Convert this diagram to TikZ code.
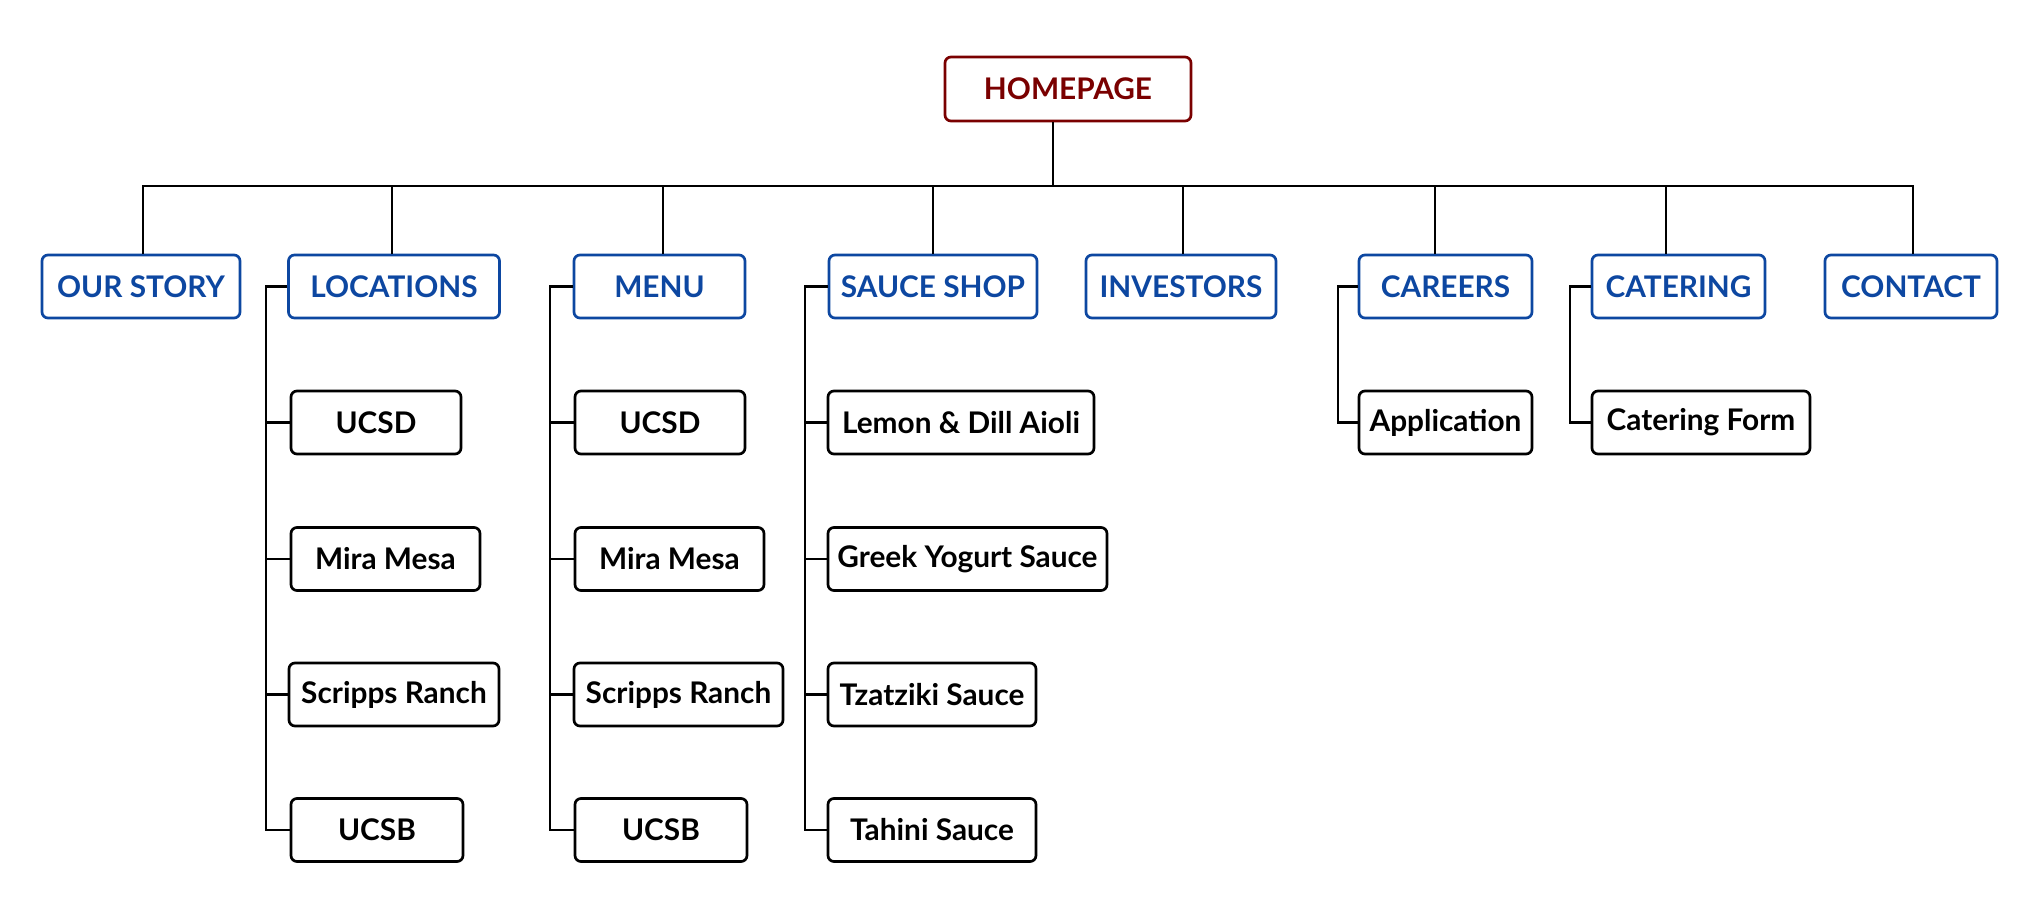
\documentclass[tikz,border=0pt]{standalone}
\usepackage{fontspec}
\setmainfont{Lato}
\definecolor{navy}{HTML}{0D47A1}
\definecolor{maroon}{HTML}{7A0000}
\begin{document}
\begin{tikzpicture}[x=0.5pt,y=-0.5pt,
  box/.style={draw, rounded corners=3pt, line width=1.35pt, inner sep=0pt,
    minimum height=31.5pt, font=\fontsize{14.9}{18}\selectfont\bfseries, fill=white},
  topbox/.style={box, draw=maroon, text=maroon, minimum height=32pt},
  secbox/.style={box, draw=navy, text=navy},
  leafbox/.style={box, draw=black, text=black},
  conn/.style={draw=black, line width=1.25pt}]
\useasboundingbox (0,0) rectangle (2042,912);
\fill[white] (0,0) rectangle (2042,912);

% top
\node[topbox, minimum width=123pt] (home) at (1068,89) {HOMEPAGE};

% level 1
\node[secbox, minimum width=99pt]  (ourstory)  at (141,286.5)  {OUR STORY};
\node[secbox, minimum width=105.5pt] (locations) at (394,286.5) {LOCATIONS};
\node[secbox, minimum width=85.5pt] (menu)     at (659.5,286.5) {MENU};
\node[secbox, minimum width=104pt] (sauce)     at (933,286.5)  {SAUCE SHOP};
\node[secbox, minimum width=95pt]  (investors) at (1181,286.5) {INVESTORS};
\node[secbox, minimum width=86.5pt] (careers)  at (1445.5,286.5) {CAREERS};
\node[secbox, minimum width=86.5pt] (catering) at (1678.5,286.5) {CATERING};
\node[secbox, minimum width=86pt]  (contact)   at (1911,286.5) {CONTACT};

% locations children
\node[leafbox, minimum width=85pt]  (ucsdA)    at (376,422.5)   {UCSD};
\node[leafbox, minimum width=94.5pt] (miraA)   at (385.5,559)   {Mira Mesa};
\node[leafbox, minimum width=105pt] (scrippsA) at (394,694.5)   {Scripps Ranch};
\node[leafbox, minimum width=86pt]  (ucsbA)    at (377,830)     {UCSB};

% menu children
\node[leafbox, minimum width=85pt]  (ucsdB)    at (660,422.5)   {UCSD};
\node[leafbox, minimum width=94.5pt] (miraB)   at (669.5,559)   {Mira Mesa};
\node[leafbox, minimum width=104.5pt] (scrippsB) at (678.5,694.5) {Scripps Ranch};
\node[leafbox, minimum width=86pt]  (ucsbB)    at (661,830)     {UCSB};

% sauce children
\node[leafbox, minimum width=133pt] (lemon)    at (961,422.5)   {Lemon \& Dill Aioli};
\node[leafbox, minimum width=139.5pt] (greek)  at (967.5,559)   {Greek Yogurt Sauce};
\node[leafbox, minimum width=104pt] (tzatziki) at (932,694.5)   {Tzatziki Sauce};
\node[leafbox, minimum width=104pt] (tahini)   at (932,830)     {Tahini Sauce};

% careers / catering children
\node[leafbox, minimum width=86.5pt] (application) at (1445.5,422.5) {Application};
\node[leafbox, minimum width=109pt]  (cateringform) at (1701,422.5) {Catering Form};

% bus coordinates
\coordinate (hb) at (1053,186);
\coordinate (j1) at (143,186);
\coordinate (j2) at (392,186);
\coordinate (j3) at (663,186);
\coordinate (j4) at (933,186);
\coordinate (j5) at (1183,186);
\coordinate (j6) at (1435,186);
\coordinate (j7) at (1666,186);
\coordinate (j8) at (1913,186);

\draw[conn] (home.south -| hb) -- (hb);
\draw[conn] (ourstory.north -| j1) -- (j1) -- (j8) -- (contact.north -| j8);
\draw[conn] (j2) -- (locations.north -| j2);
\draw[conn] (j3) -- (menu.north -| j3);
\draw[conn] (j4) -- (sauce.north -| j4);
\draw[conn] (j5) -- (investors.north -| j5);
\draw[conn] (j6) -- (careers.north -| j6);
\draw[conn] (j7) -- (catering.north -| j7);

% side branch x positions
\coordinate (vA) at (266,0);
\coordinate (vB) at (550,0);
\coordinate (vC) at (805,0);
\coordinate (vD) at (1338,0);
\coordinate (vE) at (1570,0);

\draw[conn] (locations.west) -- (locations.west -| vA) |- (ucsbA.west);
\draw[conn] (ucsdA.west) -- (ucsdA.west -| vA);
\draw[conn] (miraA.west) -- (miraA.west -| vA);
\draw[conn] (scrippsA.west) -- (scrippsA.west -| vA);

\draw[conn] (menu.west) -- (menu.west -| vB) |- (ucsbB.west);
\draw[conn] (ucsdB.west) -- (ucsdB.west -| vB);
\draw[conn] (miraB.west) -- (miraB.west -| vB);
\draw[conn] (scrippsB.west) -- (scrippsB.west -| vB);

\draw[conn] (sauce.west) -- (sauce.west -| vC) |- (tahini.west);
\draw[conn] (lemon.west) -- (lemon.west -| vC);
\draw[conn] (greek.west) -- (greek.west -| vC);
\draw[conn] (tzatziki.west) -- (tzatziki.west -| vC);

\draw[conn] (careers.west) -- (careers.west -| vD) |- (application.west);
\draw[conn] (catering.west) -- (catering.west -| vE) |- (cateringform.west);
\end{tikzpicture}
\end{document}
